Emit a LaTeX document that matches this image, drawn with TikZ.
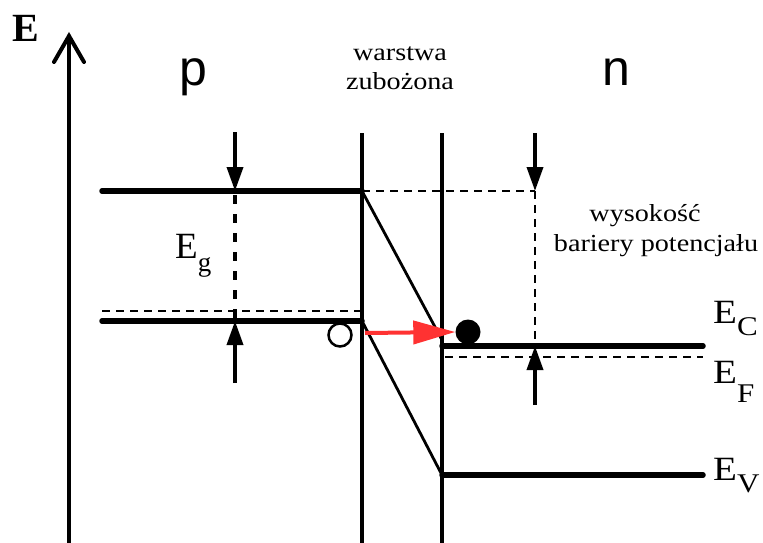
\documentclass[tikz,border=0pt]{standalone}
\usepackage{fontspec}
\setmainfont{Liberation Serif}
\newfontfamily\sansf{Liberation Sans}
\usetikzlibrary{arrows.meta}
\newcommand\widetext[1]{\scalebox{1.15}[1]{#1}}
\newcommand\subsz{\fontsize{27}{27}\selectfont}
\begin{document}
\begin{tikzpicture}[x=1pt,y=-1pt,
  band/.style={line width=5.5pt,line cap=round},
  wall/.style={line width=4.6pt},
  slant/.style={line width=2.8pt},
  thindash/.style={line width=1.3pt,dash pattern=on 8pt off 6pt},
  egdash/.style={line width=4.5pt,dash pattern=on 9pt off 10pt},
  marker/.style={line width=3.6pt,-{Triangle[length=24pt,width=16pt]}},
  axisline/.style={line width=4pt,line cap=round,line join=miter},
  lbl/.style={inner sep=0pt,anchor=base,font=\fontsize{24.5}{24.5}\selectfont},
  elbl/.style={inner sep=0pt,anchor=base west,font=\fontsize{34}{34}\selectfont},
  side/.style={inner sep=0pt,anchor=base,font=\sansf\fontsize{50}{50}\selectfont},
  redarrow/.style={line width=4pt,draw={rgb,255:red,255;green,50;blue,50},
     -{Triangle[length=42pt,width=23pt,fill={rgb,255:red,255;green,50;blue,50}]}}
]
\useasboundingbox (0,0) rectangle (763,543);

% axis
\coordinate (axb) at (69,543);
\coordinate (axt) at (69,36);
\coordinate (axl) at (54,62);
\coordinate (axr) at (84,62);
\draw[axisline] (axb) -- (axt);
\draw[axisline] (axl) -- (axt) -- (axr);
\node[inner sep=0pt,anchor=base west,font=\bfseries\fontsize{40}{40}\selectfont] (Elab) at (12,42) {E};

% side labels
\node[side] (p) at (193,85) {p};
\node[side] (n) at (616,85) {n};
\node[lbl] (w1) at (400,60) {\widetext{warstwa}};
\node[lbl] (w2) at (400,89) {\widetext{zubożona}};

% key points
\coordinate (ecpL) at (102,191);
\coordinate (ecpR) at (362,191);
\coordinate (evpL) at (102,321);
\coordinate (evpR) at (362,321);
\coordinate (efpL) at (102,311);
\coordinate (efpR) at (362,311);
\coordinate (wallLt) at (362,133);
\coordinate (wallLb) at (362,543);
\coordinate (wallRt) at (442,133);
\coordinate (wallRb) at (442,543);
\coordinate (ecnL) at (442,346);
\coordinate (ecnR) at (703,346);
\coordinate (efnL) at (445,357);
\coordinate (efnR) at (703,357);
\coordinate (evnL) at (442,475);
\coordinate (evnR) at (703,475);
\coordinate (slUend) at (442,340);
\coordinate (barTop) at (535,191);
\coordinate (barBot) at (535,346);

% walls
\draw[wall] (wallLt) -- (wallLb);
\draw[wall] (wallRt) -- (wallRb);

% bands
\draw[band] (ecpL) -- (ecpR);
\draw[band] (evpL) -- (evpR);
\draw[thindash] (efpL) -- (efpR);
\draw[band] (ecnL) -- (ecnR);
\draw[thindash] (efnL) -- (efnR);
\draw[band] (evnL) -- (evnR);
\draw[slant] (ecpR) -- (slUend);
\draw[slant] (evpR) -- (evnL);

% barrier height helpers
\draw[thindash] (ecpR) -- (barTop);
\draw[thindash] (barTop) -- (barBot);

% Eg markers
\coordinate (egTopA) at (235,132);
\coordinate (egTop) at (235,191);
\coordinate (egBot) at (235,321);
\coordinate (egBotA) at (235,383);
\draw[marker] (egTopA) -- (egTop);
\draw[marker] (egBotA) -- (egBot);
\draw[egdash] (egTop) ++(0,4) -- (egBot);

% barrier markers
\coordinate (bTopA) at (535,133);
\coordinate (bBotA) at (535,405);
\draw[marker] (bTopA) -- (barTop);
\draw[marker] (bBotA) -- (barBot);

% labels
\node[inner sep=0pt,anchor=base west,font=\fontsize{37}{37}\selectfont] (Eg) at (175,258) {E\raisebox{-13pt}{\subsz g}};
\node[lbl] (wys1) at (645,221) {\widetext{wysokość}};
\node[lbl] (wys2) at (656,251) {\widetext{bariery potencjału}};
\node[elbl] (EC) at (713,323) {\widetext{E\raisebox{-12pt}{\subsz C}}};
\node[elbl] (EF) at (713,383) {\widetext{E\raisebox{-19pt}{\subsz F}}};
\node[elbl] (EV) at (713,480) {\widetext{E\raisebox{-12pt}{\subsz V}}};

% carriers
\node[circle,draw,line width=2.5pt,minimum size=23pt,inner sep=0pt] (hole) at (340,335) {};
\node[circle,fill=black,minimum size=25pt,inner sep=0pt] (elec) at (468,332) {};
\draw[redarrow] (365,333) -- (elec.west);
\end{tikzpicture}
\end{document}
